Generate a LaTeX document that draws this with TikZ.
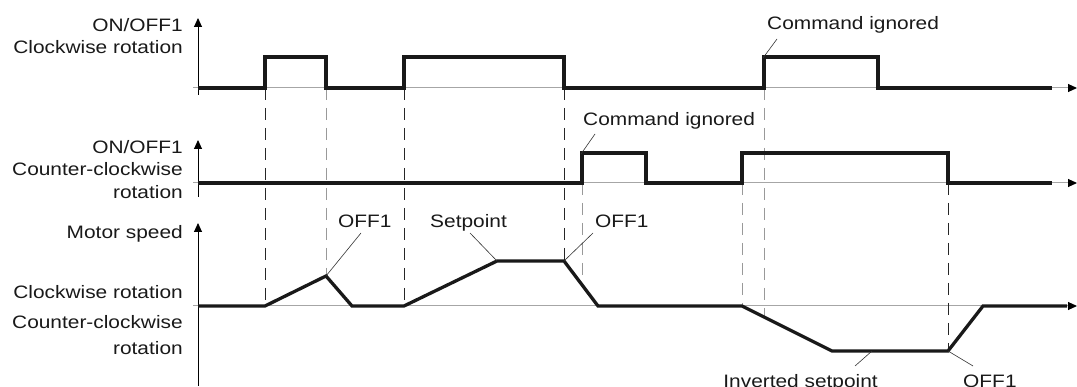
\documentclass[tikz,border=0pt]{standalone}
\usepackage{fontspec}
\setmainfont{Liberation Sans}
\usetikzlibrary{arrows.meta, positioning}

\begin{document}
\begin{tikzpicture}[>={Triangle[length=9pt,width=8pt,color=black]}, x=1pt, y=-1pt,
    axis/.style={line width=1pt, gray!70},
    yaxis/.style={line width=0.9pt, black, ->},
    signal/.style={line width=3.3pt, black!90, line join=miter},
    guide/.style={line width=1pt, dash pattern=on 12pt off 8pt, black!85},
    guidegray/.style={guide, gray!80},
    leader/.style={line width=0.6pt, black!80},
    lbl/.style={font=\fontsize{18}{20}\selectfont, xscale=1.16, inner sep=0pt, text=black!90}]

    \useasboundingbox (0,0) rectangle (1077,387);

    % =================================================================
    % 1. TRỤC TỌA ĐỘ
    % =================================================================
    \draw[axis, ->] (193,88) -- (1077,88);
    \draw[yaxis] (198,95) -- (198,18);
    \draw[axis, ->] (193,183) -- (1077,183);
    \draw[yaxis] (198,197) -- (198,140);
    \draw[axis, ->] (193,306) -- (1077,306);
    \draw[yaxis] (198,386) -- (198,223);

    % Nhãn trục
    \node[lbl, anchor=base east] (onA)   at (183,32)  {ON/OFF1};
    \node[lbl, anchor=base east] (cwA)   at (183,54)  {Clockwise rotation};
    \node[lbl, anchor=base east] (onB)   at (183,154) {ON/OFF1};
    \node[lbl, anchor=base east] (ccwB)  at (183,176) {Counter-clockwise};
    \node[lbl, anchor=base east] (rotB)  at (183,199) {rotation};
    \node[lbl, anchor=base east] (speed) at (183,239) {Motor speed};
    \node[lbl, anchor=base east] (cwC)   at (183,299) {Clockwise rotation};
    \node[lbl, anchor=base east] (ccwC)  at (183,329) {Counter-clockwise};
    \node[lbl, anchor=base east] (rotC)  at (183,355) {rotation};

    % =================================================================
    % 2. CÁC ĐƯỜNG NÉT ĐỨT GIÓNG THỜI ĐIỂM
    % =================================================================
    \draw[guide]     (265,88)  -- (265,306);
    \draw[guidegray] (326,88)  -- (326,276);
    \draw[guide]     (404,88)  -- (404,306);
    \draw[guide]     (564,88)  -- (564,261);
    \draw[guidegray] (582,183) -- (582,285);
    \draw[guidegray] (742,183) -- (742,306);
    \draw[guidegray] (764,88)  -- (764,317);
    \draw[guide]     (948,183) -- (948,351);

    % =================================================================
    % 3. TÍN HIỆU
    % =================================================================
    % ON/OFF1 quay thuận
    \draw[signal] (198,88) -- (265,88) -- (265,57) -- (326,57) -- (326,88)
        -- (404,88) -- (404,57) -- (564,57) -- (564,88)
        -- (764,88) -- (764,57) -- (878,57) -- (878,88) -- (1052,88);

    % ON/OFF1 quay nghịch
    \draw[signal] (198,183) -- (582,183) -- (582,153) -- (646,153) -- (646,183)
        -- (742,183) -- (742,153) -- (948,153) -- (948,183) -- (1052,183);

    % Tốc độ động cơ
    \coordinate (offAend) at (326,276);
    \coordinate (setA)    at (497,261);
    \coordinate (offBend) at (564,261);
    \coordinate (invA)    at (872,351);
    \coordinate (offCend) at (948,351);
    \draw[signal] (198,306) -- (265,306) -- (offAend) -- (352,306) -- (404,306)
        -- (setA) -- (offBend) -- (598,306) -- (742,306)
        -- (832,351) -- (offCend) -- (983,306) -- (1067,306);

    % =================================================================
    % 4. CHÚ THÍCH
    % =================================================================
    \node[lbl, anchor=base west] (cmdTop) at (767,30)  {Command ignored};
    \node[lbl, anchor=base west] (cmdMid) at (583,126) {Command ignored};
    \node[lbl, anchor=base west] (offA)   at (338,228) {OFF1};
    \node[lbl, anchor=base west] (setp)   at (430,228) {Setpoint};
    \node[lbl, anchor=base west] (offB)   at (595,228) {OFF1};
    \node[lbl, anchor=base east] (invset) at (878,388) {Inverted setpoint};
    \node[lbl, anchor=base west] (offC)   at (963,388) {OFF1};

    \draw[leader] ([shift={(10,9)}]cmdTop.base west) -- (763,58);
    \draw[leader] ([shift={(12,8)}]cmdMid.base west) -- (581,154);
    \draw[leader] ([shift={(23,5)}]offA.base west) -- (offAend);
    \draw[leader] ([shift={(40,5)}]setp.base west) -- (setA);
    \draw[leader] ([shift={(-2,5)}]offB.base west) -- (offBend);
    \draw[leader] ([shift={(-23,-22)}]invset.base east) -- (invA);
    \draw[leader] ([shift={(10,-22)}]offC.base west) -- (offCend);

\end{tikzpicture}
\end{document}
